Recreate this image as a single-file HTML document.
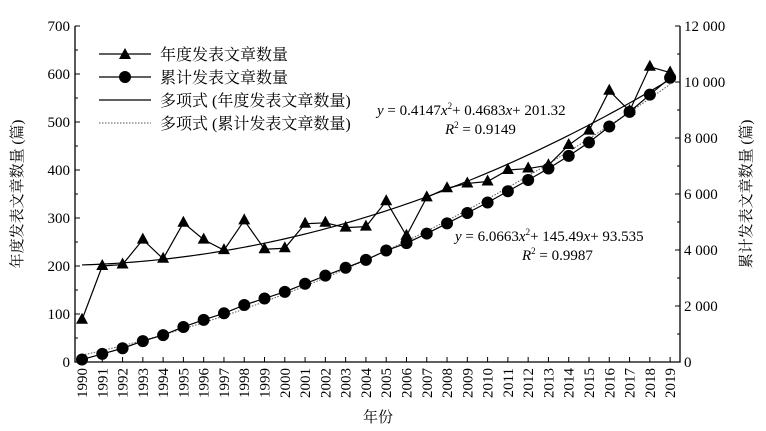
<!DOCTYPE html><html><head><meta charset="utf-8"><style>body{margin:0;background:#fff}svg{display:block}svg text{font-family:"Liberation Serif","Times New Roman","DejaVu Serif","Noto Serif CJK SC",serif;fill:#000}</style></head><body>
<svg id="s" width="766" height="431" xmlns="http://www.w3.org/2000/svg" font-family="'Liberation Serif','Noto Serif CJK SC',serif"></svg>
<script>
const s=document.getElementById('s');let h='';
const X0=75,X1=680,Y0=362,Y1=26;
const xs=i=>82+i*20.28, yl=v=>Y0-v*(336/700), yr=v=>Y0-v*(336/12000);
const a=[88,200,203,255,215,290,255,233,295,235,237,288,290,280,282,335,263,343,362,372,376,400,403,410,452,482,565,523,615,603];
let c=[],t=0;a.forEach(v=>{t+=v;c.push(t)});
h+=`<path d="M${X0} ${Y1}V${Y0}H${X1}V${Y1}" fill="none" stroke="#000" stroke-width="1.3"/>`;
for(let v=0;v<=700;v+=50){const y=yl(v);h+=`<line x1="${X0}" x2="${X0+(v%100?3:5)}" y1="${y}" y2="${y}" stroke="#000"/>`;if(v%100==0)h+=`<text x="${X0-5}" y="${y+5}" font-size="15" text-anchor="end">${v}</text>`}
for(let v=0;v<=12000;v+=1000){const y=yr(v);h+=`<line x1="${X1}" x2="${X1-(v%2000?3:5)}" y1="${y}" y2="${y}" stroke="#000"/>`;if(v%2000==0){let l=v>=1000?(Math.floor(v/1000)+' 000'):'0';h+=`<text x="${X1+4}" y="${y+5}" font-size="15">${l}</text>`}}
for(let i=0;i<30;i++){const x=xs(i);h+=`<line x1="${x}" x2="${x}" y1="${Y0}" y2="${Y0-5}" stroke="#000"/><text transform="translate(${x+5},${Y0+6}) rotate(-90)" font-size="15" text-anchor="end">${1990+i}</text>`}
let p1='',p2='';for(let k=0;k<=120;k++){const x=1+k*29/120;const px=xs(x-1);p1+=(k?'L':'M')+px+' '+yl(0.4147*x*x+0.4683*x+201.32);p2+=(k?'L':'M')+px+' '+yr(6.0663*x*x+145.49*x+93.535)}
h+=`<path d="${p1}" fill="none" stroke="#000" stroke-width="1.2"/><path d="${p2}" fill="none" stroke="#555" stroke-width="1" stroke-dasharray="1.5 1.5"/>`;
h+=`<polyline points="${a.map((v,i)=>xs(i)+','+yl(v)).join(' ')}" fill="none" stroke="#000" stroke-width="1.2"/>`;
h+=`<polyline points="${c.map((v,i)=>xs(i)+','+yr(v)).join(' ')}" fill="none" stroke="#000" stroke-width="1.2"/>`;
const tri=(x,y)=>`<path d="M${x} ${y-7}L${x+6} ${y+4}H${x-6}Z"/>`;
a.forEach((v,i)=>h+=tri(xs(i),yl(v)));
c.forEach((v,i)=>h+=`<circle cx="${xs(i)}" cy="${yr(v)}" r="6"/>`);
h+=`<line x1="99" x2="151" y1="54" y2="54" stroke="#000" stroke-width="1.2"/>`+tri(125,55)+`<text x="160" y="60" font-size="16">年度发表文章数量</text>`;
h+=`<line x1="99" x2="151" y1="77" y2="77" stroke="#000" stroke-width="1.2"/><circle cx="125" cy="77" r="6"/><text x="160" y="83" font-size="16">累计发表文章数量</text>`;
h+=`<line x1="99" x2="151" y1="100" y2="100" stroke="#000" stroke-width="1.2"/><text x="160" y="106" font-size="16">多项式 (年度发表文章数量)</text>`;
h+=`<line x1="99" x2="151" y1="123" y2="123" stroke="#555" stroke-dasharray="1.5 1.5"/><text x="160" y="129" font-size="16">多项式 (累计发表文章数量)</text>`;
h+=`<text x="377" y="115" font-size="15"><tspan font-style="italic">y</tspan> = 0.4147<tspan font-style="italic">x</tspan><tspan font-size="9" dy="-6">2</tspan><tspan dy="6">+ 0.4683</tspan><tspan font-style="italic">x</tspan>+ 201.32</text>`;
h+=`<text x="445" y="134" font-size="15"><tspan font-style="italic">R</tspan><tspan font-size="9" dy="-6">2</tspan><tspan dy="6"> = 0.9149</tspan></text>`;
h+=`<text x="455" y="241" font-size="15"><tspan font-style="italic">y</tspan> = 6.0663<tspan font-style="italic">x</tspan><tspan font-size="9" dy="-6">2</tspan><tspan dy="6">+ 145.49</tspan><tspan font-style="italic">x</tspan>+ 93.535</text>`;
h+=`<text x="522" y="260" font-size="15"><tspan font-style="italic">R</tspan><tspan font-size="9" dy="-6">2</tspan><tspan dy="6"> = 0.9987</tspan></text>`;
h+=`<text x="378" y="422" font-size="15" text-anchor="middle">年份</text>`;
h+=`<text transform="translate(22,194) rotate(-90)" font-size="15" text-anchor="middle">年度发表文章数量 (篇)</text>`;
h+=`<text transform="translate(751,194) rotate(-90)" font-size="15" text-anchor="middle">累计发表文章数量 (篇)</text>`;
s.innerHTML=h;
</script></body></html>
